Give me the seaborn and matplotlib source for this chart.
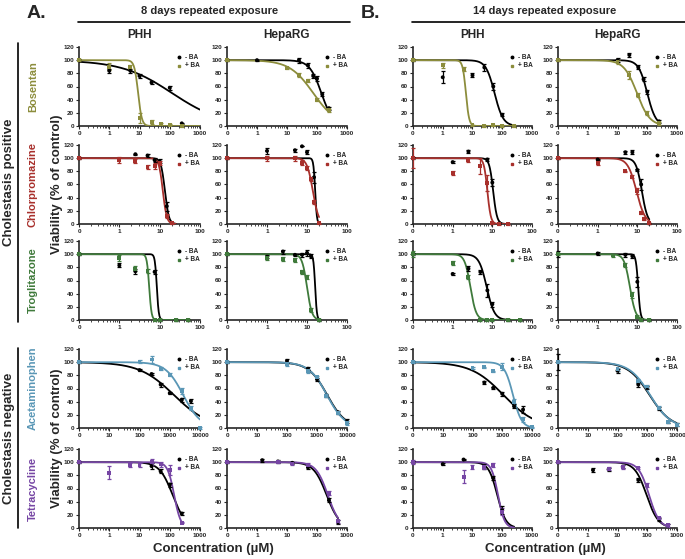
import numpy as np
import pandas as pd
import seaborn as sns
import matplotlib.pyplot as plt
import matplotlib.ticker as ticker
from matplotlib.lines import Line2D

nan = np.nan

# --- rows / columns of the grid ---
drugs = ['Bosentan', 'Chlorpromazine', 'Troglitazone', 'Acetaminophen', 'Tetracycline']
drug_colors = ['#8c8d3c', '#a8302c', '#3f7a3b', '#5a97b6', '#7646a4']
# concentration shown as "0" on the log axis, and last axis decade
x_zero = [0.1, 0.1, 0.1, 1, 0.1]
x_max = [1000, 100, 100, 10000, 1000]
# panel order: 8d PHH, 8d HepaRG, 14d PHH, 14d HepaRG

# --- Bosentan ---
bos_conc = [[0, 1, 5, 10, 25, 50, 100, 250],
            [0, 1, 10, 25, 50, 75, 100, 150, 250],
            [0, 1, 5, 10, 25, 50, 100, 250],
            [0, 1, 10, 25, 50, 75, 100, 250]]
bos_minus = [[100, 84, 84, 76, 66, nan, 58, 4],
             [100, 100, nan, 100, 92, 76, 72, 48, 27],
             [100, 74, nan, 77, 89, 60, 17, nan],
             [100, nan, 100, 108, 89, 71, 52, 7]]
bos_plus = [[100, 90, 89, 12, 6, 3, 2, 0],
            [100, nan, 88, 78, 69, nan, 40, nan, 24],
            [100, 92, 86, 1, 0, 1, 0, 0],
            [100, nan, 97, 78, 47, nan, 20, 4]]
bos_err_minus = [[2, 3, 3, 3, 2, 0, 3, 1], [2, 1, 0, 4, 4, 3, 4, 3, 2],
                 [2, 9, 0, 3, 5, 6, 2, 0], [2, 0, 3, 3, 3, 3, 3, 2]]
bos_err_plus = [[2, 5, 3, 8, 3, 1, 1, 1], [2, 0, 2, 3, 2, 0, 2, 0, 2],
                [2, 4, 3, 1, 1, 1, 1, 1], [2, 0, 3, 6, 3, 0, 3, 2]]
bos_fit = [[(119, 0.52), (9, 7)], [(140, 2.2), (75, 1.1)],
           [(55, 3), (6, 8)], [(100, 3), (45, 2)]]
bos_end = [1000, 250, 250, 250]

# --- Chlorpromazine ---
cpz_conc = [[0, 1, 2.5, 5, 7.5, 10, 15, 20],
            [0, 1, 5, 7.5, 10, 12.5, 15, 20],
            [0, 1, 2.5, 5, 7.5, 10, 15, 25],
            [0, 1, 5, 7.5, 10, 12.5, 15, 20]]
cpz_minus = [[100, nan, 106, 104, 97, 95, 27, nan],
             [100, 111, 112, 118, 109, nan, 71, nan],
             [100, 94, 110, nan, 98, 63, 1, nan],
             [100, 98, 109, 109, 82, 60, nan, 1]]
cpz_plus = [[100, 97, 95, 87, 88, 92, 12, 1],
            [100, 100, 100, 93, 85, 69, 34, 1],
            [100, 78, 97, 88, 62, 1, 0, 0],
            [100, 92, 80, 72, 50, 17, 8, 1]]
cpz_err_minus = [[2, 0, 1, 2, 3, 3, 7, 0], [2, 4, 2, 0, 3, 0, 8, 0],
                 [2, 2, 2, 0, 2, 6, 1, 0], [2, 1, 2, 3, 2, 8, 0, 1]]
cpz_err_plus = [[2, 5, 3, 3, 5, 3, 3, 1], [2, 4, 4, 4, 3, 3, 3, 1],
                [15, 3, 3, 12, 12, 1, 1, 1], [2, 3, 1, 2, 5, 2, 2, 1]]
cpz_fit = [[(13.5, 9), (12, 9)], [(16, 20), (14, 6)],
           [(10.5, 9), (7.5, 10)], [(13, 6), (9.5, 4)]]
cpz_end = [25, 20, 25, 20]

# --- Troglitazone ---
tro_conc = [[0, 1, 2.5, 5, 7.5, 10, 25, 50],
            [0, 1, 2.5, 5, 7.5, 10, 12.5, 20],
            [0, 1, 2.5, 5, 7.5, 10, 25, 50],
            [0, 1, 2.5, 5, 7.5, 10, 12.5, 20]]
tro_minus = [[100, 83, 74, nan, 73, 0, 0, 0],
             [100, 96, 104, 99, 99, 102, 97, 0],
             [100, 70, 78, 73, 45, 24, 0, 0],
             [100, 101, nan, 99, 97, 58, 0, 0]]
tro_plus = [[100, 94, 78, 75, 0, 0, 0, 0],
            [100, 94, 93, 91, 73, 66, 15, 0],
            [100, 87, 66, 0, 0, 0, 0, 0],
            [100, nan, 98, 84, 38, 5, 0, 0]]
tro_err_minus = [[2, 3, 4, 0, 3, 1, 1, 1], [2, 2, 3, 2, 3, 5, 3, 1],
                 [2, 1, 4, 3, 10, 4, 1, 1], [5, 3, 0, 3, 3, 8, 1, 1]]
tro_err_plus = [[2, 4, 4, 3, 1, 1, 1, 1], [2, 3, 3, 3, 3, 3, 3, 1],
                [5, 3, 3, 1, 1, 1, 1, 1], [2, 0, 3, 3, 4, 2, 1, 1]]
tro_fit = [[(8.5, 18), (5.5, 15)], [(16, 20), (10, 7)],
           [(7.2, 4.5), (2.8, 6)], [(10.5, 15), (6.5, 6)]]
tro_end = [50, 20, 50, 20]

# --- Acetaminophen ---
apap_conc = [[0, 100, 250, 500, 1000, 2500, 5000, 10000],
             [0, 100, 500, 1000, 2000, 5000, 10000],
             [0, 100, 250, 500, 1000, 2500, 5000, 10000],
             [0, 100, 500, 1000, 2500, 5000, 10000]]
apap_minus = [[100, 88, 82, 66, 53, 43, 41, nan],
              [100, 102, 90, 74, 49, 24, 10],
              [100, nan, 69, 61, 52, 33, 28, nan],
              [100, 87, 66, 62, 30, 9, 5]]
apap_plus = [[100, 101, 104, 90, 81, 56, 30, 0],
             [100, 97, 87, 77, 49, 23, 8],
             [100, 91, 92, 86, 93, 39, 13, 1],
             [100, 89, 72, 63, 31, 9, 5]]
apap_err_minus = [[2, 2, 2, 3, 2, 3, 3, 0], [2, 3, 2, 2, 2, 2, 3],
                  [2, 0, 2, 2, 3, 3, 5, 0], [12, 3, 3, 2, 2, 2, 2]]
apap_err_plus = [[2, 2, 5, 2, 2, 5, 3, 1], [2, 3, 3, 2, 2, 2, 3],
                 [2, 2, 1, 1, 5, 5, 4, 1], [2, 2, 3, 2, 2, 2, 2]]
apap_fit = [[(1380, 0.76), (2800, 1.5)], [(2200, 1.4), (2150, 1.45)],
            [(1100, 0.8), (2300, 3)], [(1200, 1.2), (1250, 1.25)]]
apap_end = [10000, 10000, 10000, 10000]

# --- Tetracycline ---
tet_conc = [[0, 1, 5, 10, 25, 50, 100, 250],
            [0, 1.5, 5, 15, 50, 100, 250, 500],
            [0, 1, 5, 10, 25, 50, 100, 250],
            [0, 1.5, 5, 15, 50, 100, 250, 500]]
tet_minus = [[100, nan, nan, nan, 94, 86, 66, 22],
             [100, 103, 101, 99, 92, nan, 42, 9],
             [100, 97, 104, nan, 93, 76, 27, nan],
             [100, 88, 89, 93, 73, nan, 13, 4]]
tet_plus = [[100, 84, 95, 96, 100, 97, 88, 8],
            [100, nan, 100, 98, 96, nan, 53, 10],
            [100, nan, 78, 93, 92, 95, 25, nan],
            [100, nan, 90, 93, 91, 66, 15, 4]]
tet_err_minus = [[2, 0, 0, 0, 4, 3, 3, 2], [2, 2, 3, 2, 2, 0, 3, 3],
                 [2, 2, 1, 0, 4, 3, 6, 0], [2, 3, 2, 2, 3, 0, 2, 2]]
tet_err_plus = [[2, 10, 3, 3, 5, 4, 8, 1], [2, 0, 2, 2, 2, 0, 3, 2],
                [3, 0, 10, 3, 3, 3, 5, 0], [2, 0, 2, 3, 2, 3, 2, 2]]
tet_fit = [[(125, 2), (140, 4)], [(210, 2), (230, 2.2)],
           [(68, 3), (72, 4)], [(95, 2.2), (115, 2.5)]]
tet_end = [250, 500, 250, 500]

all_conc = [bos_conc, cpz_conc, tro_conc, apap_conc, tet_conc]
all_minus = [bos_minus, cpz_minus, tro_minus, apap_minus, tet_minus]
all_plus = [bos_plus, cpz_plus, tro_plus, apap_plus, tet_plus]
all_err_minus = [bos_err_minus, cpz_err_minus, tro_err_minus, apap_err_minus, tet_err_minus]
all_err_plus = [bos_err_plus, cpz_err_plus, tro_err_plus, apap_err_plus, tet_err_plus]
all_fit = [bos_fit, cpz_fit, tro_fit, apap_fit, tet_fit]
all_end = [bos_end, cpz_end, tro_end, apap_end, tet_end]

# --- layout (pixels) ---
W, H = 685, 559
col_px = [(79, 200), (227, 347), (413, 532), (558, 677)]
row_px = [(47, 126), (145, 224), (241, 320), (349, 428), (449, 528)]

sns.set_style('ticks')
plt.rcParams['font.family'] = ['Liberation Sans', 'DejaVu Sans']
plt.rcParams['font.weight'] = 'bold'

fig = plt.figure(figsize=(W / 100, H / 100), dpi=100)


def fx(x):
    return x / W


def fy(y):
    return 1 - y / H


for r, drug in enumerate(drugs):
    color = drug_colors[r]
    x0 = x_zero[r]
    for c in range(4):
        l, rr = col_px[c]
        t, b = row_px[r]
        ax = fig.add_axes([fx(l), fy(b), (rr - l) / W, (b - t) / H])
        conc = np.array(all_conc[r][c], dtype=float)
        px = np.where(conc == 0, x0, conc)
        df = pd.DataFrame({
            'x': np.concatenate([px, px]),
            'y': np.concatenate([all_minus[r][c], all_plus[r][c]]),
            'err': np.concatenate([all_err_minus[r][c], all_err_plus[r][c]]),
            'grp': ['- BA'] * len(px) + ['+ BA'] * len(px),
        }).dropna(subset=['y'])

        # fitted curves
        xs = np.geomspace(x0, all_end[r][c], 300)
        curves = []
        for g, (ic50, hill) in zip(['- BA', '+ BA'], all_fit[r][c]):
            curves.append(pd.DataFrame({'x': xs,
                                        'y': 100 / (1 + (xs / ic50) ** hill),
                                        'grp': g}))
        cdf = pd.concat(curves)
        pal = {'- BA': 'black', '+ BA': color}
        sns.lineplot(data=cdf, x='x', y='y', hue='grp', palette=pal,
                     linewidth=1.3, legend=False, ax=ax, zorder=3,
                     estimator=None, sort=False)

        for g in ['- BA', '+ BA']:
            sub = df[df['grp'] == g]
            ax.errorbar(sub['x'], sub['y'], yerr=sub['err'], fmt='none',
                        ecolor=pal[g], elinewidth=0.9, capsize=1.6,
                        capthick=0.9, zorder=4, clip_on=False)
        sns.scatterplot(data=df, x='x', y='y', hue='grp', style='grp',
                        palette=pal, markers={'- BA': 'o', '+ BA': 's'},
                        s=8, linewidth=0, legend=False, ax=ax, zorder=5,
                        clip_on=False)

        ax.set_xscale('log')
        ax.set_xlim(x0, x_max[r])
        ax.set_ylim(0, 120)
        n = int(round(np.log10(x_max[r] / x0)))
        ticks = [x0 * 10 ** k for k in range(n + 1)]
        ax.set_xticks(ticks)
        ax.set_xticklabels(['0'] + [str(int(round(v))) for v in ticks[1:]])
        ax.xaxis.set_minor_locator(ticker.LogLocator(base=10, subs=np.arange(2, 10), numticks=30))
        ax.xaxis.set_minor_formatter(ticker.NullFormatter())
        ax.set_yticks([0, 20, 40, 60, 80, 100, 120])
        ax.tick_params(axis='both', which='major', labelsize=4.6, length=2.2,
                       width=0.8, pad=1.5)
        ax.tick_params(axis='x', which='minor', length=1.3, width=0.6)
        ax.set_xlabel('')
        ax.set_ylabel('')
        for s in ['top', 'right']:
            ax.spines[s].set_visible(False)
        for s in ['left', 'bottom']:
            ax.spines[s].set_linewidth(1.2)

        # legend
        ax.plot([0.83], [0.87], 'o', color='black', ms=1.8, transform=ax.transAxes, clip_on=False)
        ax.plot([0.83], [0.76], 's', color=color, ms=1.8, transform=ax.transAxes, clip_on=False)
        ax.text(0.88, 0.87, '- BA', fontsize=4.7, va='center', transform=ax.transAxes)
        ax.text(0.88, 0.76, '+ BA', fontsize=4.7, va='center', transform=ax.transAxes)

    # drug name
    t, b = row_px[r]
    fig.text(fx(33), fy((t + b) / 2), drug, rotation=90, color=color,
             fontsize=8, ha='center', va='center')

# headers
fig.text(fx(36), fy(13), 'A.', fontsize=14, ha='center', va='center')
fig.text(fx(370), fy(13), 'B.', fontsize=14, ha='center', va='center')
fig.text(fx(210), fy(11), '8 days repeated exposure', fontsize=8, ha='center', va='center')
fig.text(fx(545), fy(11), '14 days repeated exposure', fontsize=8, ha='center', va='center')
for x1, x2 in [(78, 350), (412, 685)]:
    fig.add_artist(Line2D([fx(x1), fx(x2)], [fy(22), fy(22)], color='black', lw=1.2))
for (l, rr), name in zip(col_px, ['PHH', 'HepaRG', 'PHH', 'HepaRG']):
    fig.text(fx((l + rr) / 2), fy(35), name, fontsize=8.5, ha='center', va='center')

# group labels on the left
for (y1, y2), name in [((43, 322), 'Cholestasis positive'), ((348, 528), 'Cholestasis negative')]:
    fig.add_artist(Line2D([fx(18), fx(18)], [fy(y1), fy(y2)], color='black', lw=1.2))
    fig.text(fx(9), fy((y1 + y2) / 2), name, rotation=90, fontsize=9.5,
             ha='center', va='center')
for yc in [184, 438]:
    fig.text(fx(57), fy(yc), 'Viability (% of control)', rotation=90,
             fontsize=9.5, ha='center', va='center')

for xc in [213, 545]:
    fig.text(fx(xc), fy(549), 'Concentration (µM)', fontsize=9.5,
             ha='center', va='center')

fig.savefig('out.png', dpi=100)
